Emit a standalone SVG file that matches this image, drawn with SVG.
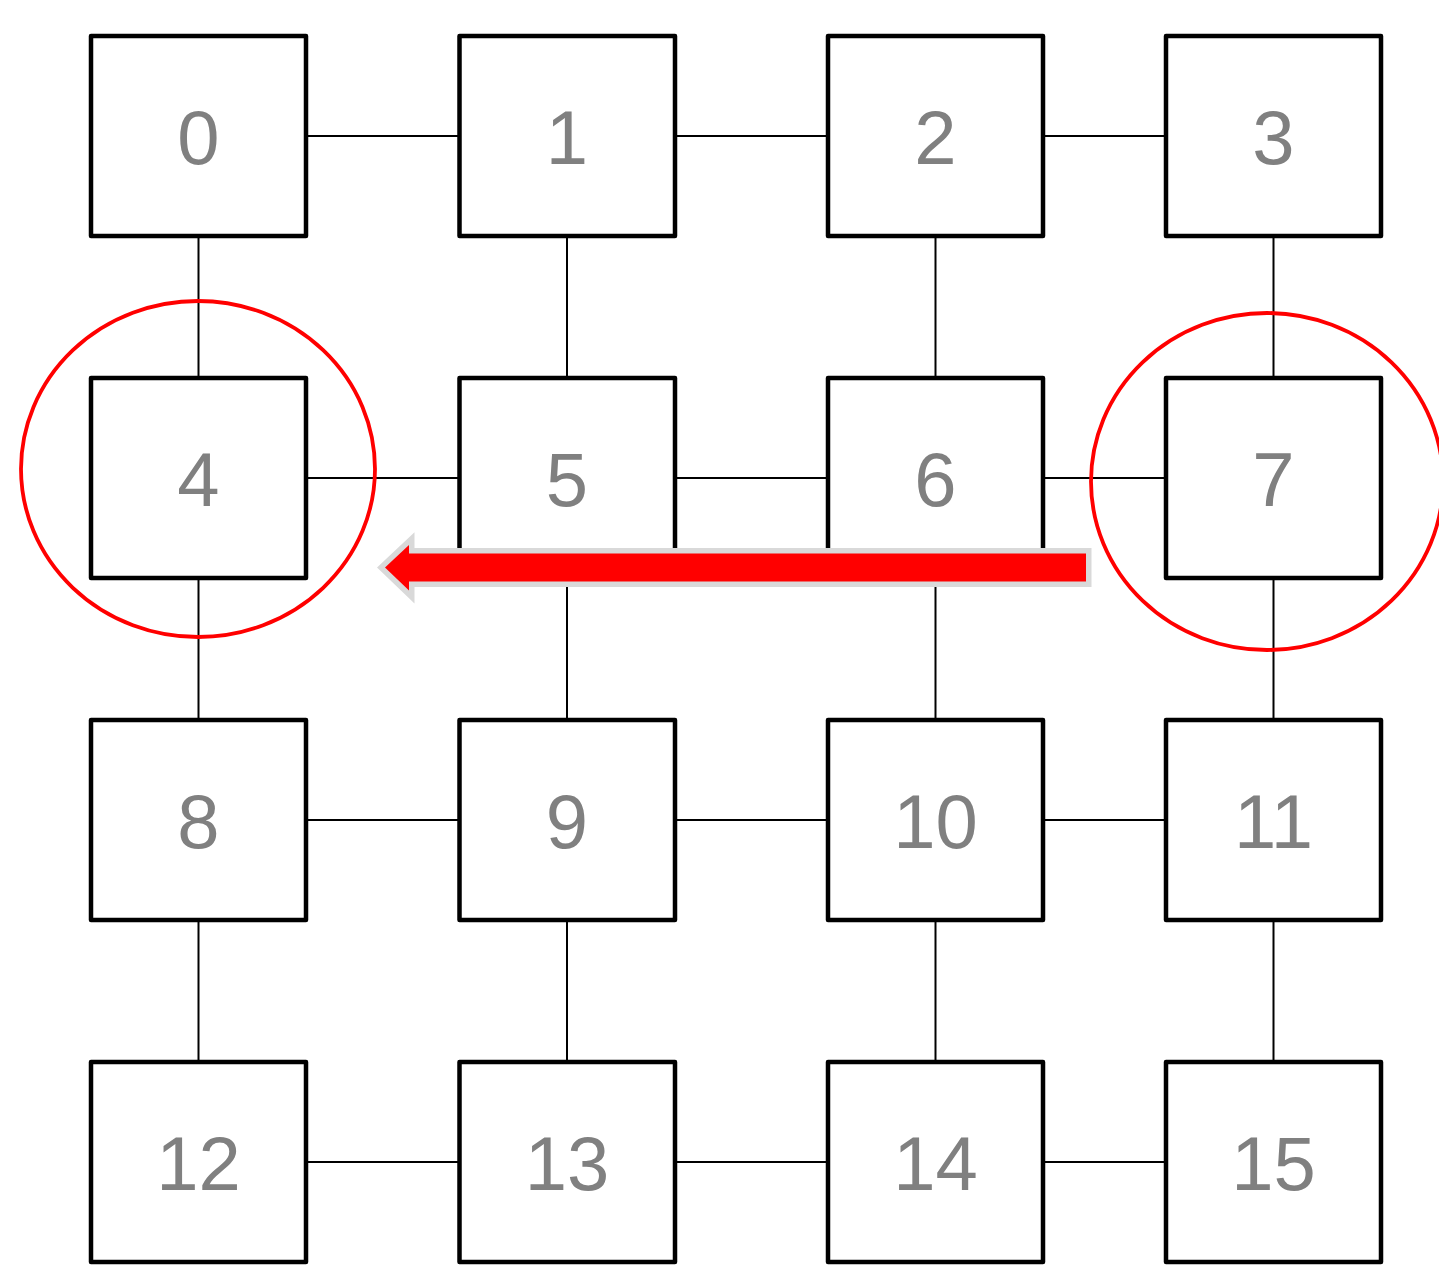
<svg xmlns="http://www.w3.org/2000/svg" width="1439" height="1267" viewBox="0 0 1439 1267">
<style>
.box{fill:#fff;stroke:#000;stroke-width:4.5;stroke-linejoin:round}
.lbl{font-family:"Liberation Sans",Arial,sans-serif;font-size:76px;fill:#808080;text-anchor:middle}
.con{stroke:#000;stroke-width:2;fill:none}
.ring{fill:none;stroke:#ff0000;stroke-width:3.8}
</style>
<rect width="1439" height="1267" fill="#fff"/>
<g id="connectors">
<line class="con" x1="306" y1="136" x2="459" y2="136"/>
<line class="con" x1="675" y1="136" x2="828" y2="136"/>
<line class="con" x1="1043" y1="136" x2="1166" y2="136"/>
<line class="con" x1="306" y1="478" x2="459" y2="478"/>
<line class="con" x1="675" y1="478" x2="828" y2="478"/>
<line class="con" x1="1043" y1="478" x2="1166" y2="478"/>
<line class="con" x1="306" y1="820" x2="459" y2="820"/>
<line class="con" x1="675" y1="820" x2="828" y2="820"/>
<line class="con" x1="1043" y1="820" x2="1166" y2="820"/>
<line class="con" x1="306" y1="1162" x2="459" y2="1162"/>
<line class="con" x1="675" y1="1162" x2="828" y2="1162"/>
<line class="con" x1="1043" y1="1162" x2="1166" y2="1162"/>
<line class="con" x1="198.5" y1="236" x2="198.5" y2="378"/>
<line class="con" x1="567" y1="236" x2="567" y2="378"/>
<line class="con" x1="935.5" y1="236" x2="935.5" y2="378"/>
<line class="con" x1="1273.5" y1="236" x2="1273.5" y2="378"/>
<line class="con" x1="198.5" y1="578" x2="198.5" y2="720"/>
<line class="con" x1="567" y1="578" x2="567" y2="720"/>
<line class="con" x1="935.5" y1="578" x2="935.5" y2="720"/>
<line class="con" x1="1273.5" y1="578" x2="1273.5" y2="720"/>
<line class="con" x1="198.5" y1="920" x2="198.5" y2="1062"/>
<line class="con" x1="567" y1="920" x2="567" y2="1062"/>
<line class="con" x1="935.5" y1="920" x2="935.5" y2="1062"/>
<line class="con" x1="1273.5" y1="920" x2="1273.5" y2="1062"/>
</g>
<g id="node-0"><rect class="box" x="91" y="36" width="215" height="200"/><text class="lbl" x="198.5" y="164">0</text></g>
<g id="node-1"><rect class="box" x="459.5" y="36" width="215.5" height="200"/><text class="lbl" x="567" y="164">1</text></g>
<g id="node-2"><rect class="box" x="828" y="36" width="215" height="200"/><text class="lbl" x="935.5" y="164">2</text></g>
<g id="node-3"><rect class="box" x="1166" y="36" width="215" height="200"/><text class="lbl" x="1273.5" y="164">3</text></g>
<g id="node-4"><rect class="box" x="91" y="378" width="215" height="200"/><text class="lbl" x="198.5" y="506">4</text></g>
<g id="node-5"><rect class="box" x="459.5" y="378" width="215.5" height="200"/><text class="lbl" x="567" y="506">5</text></g>
<g id="node-6"><rect class="box" x="828" y="378" width="215" height="200"/><text class="lbl" x="935.5" y="506">6</text></g>
<g id="node-7"><rect class="box" x="1166" y="378" width="215" height="200"/><text class="lbl" x="1273.5" y="506">7</text></g>
<g id="node-8"><rect class="box" x="91" y="720" width="215" height="200"/><text class="lbl" x="198.5" y="848">8</text></g>
<g id="node-9"><rect class="box" x="459.5" y="720" width="215.5" height="200"/><text class="lbl" x="567" y="848">9</text></g>
<g id="node-10"><rect class="box" x="828" y="720" width="215" height="200"/><text class="lbl" x="935.5" y="848">10</text></g>
<g id="node-11"><rect class="box" x="1166" y="720" width="215" height="200"/><text class="lbl" x="1273.5" y="848">11</text></g>
<g id="node-12"><rect class="box" x="91" y="1062" width="215" height="200"/><text class="lbl" x="198.5" y="1190">12</text></g>
<g id="node-13"><rect class="box" x="459.5" y="1062" width="215.5" height="200"/><text class="lbl" x="567" y="1190">13</text></g>
<g id="node-14"><rect class="box" x="828" y="1062" width="215" height="200"/><text class="lbl" x="935.5" y="1190">14</text></g>
<g id="node-15"><rect class="box" x="1166" y="1062" width="215" height="200"/><text class="lbl" x="1273.5" y="1190">15</text></g>
<g id="highlights">
<ellipse class="ring" cx="198" cy="469" rx="177" ry="168"/>
<ellipse class="ring" cx="1267" cy="481.5" rx="176" ry="168.5"/>
<polygon points="1086,553.5 409,553.5 409,545 385,567.5 409,590.5 409,581.5 1086,581.5" fill="#ff0000" stroke="#d9d9d9" stroke-width="11" stroke-linejoin="miter" paint-order="stroke"/>
</g>
</svg>
